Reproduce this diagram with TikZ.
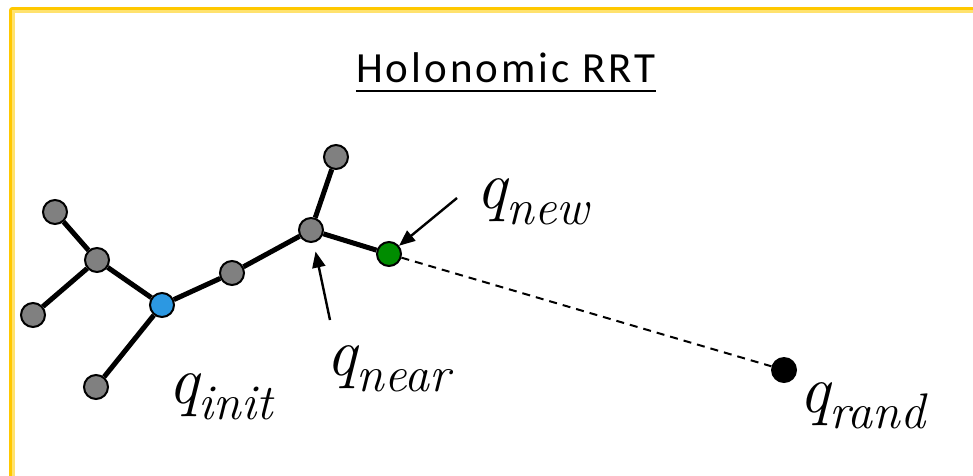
\documentclass[tikz,border=0pt]{standalone}
\usepackage{fontspec}
\newfontfamily\qfont{Latin Modern Roman}
\newfontfamily\titlefont[LetterSpace=7]{Carlito}
\usepackage{tikz}
\usetikzlibrary{arrows.meta}

\definecolor{framedark}{RGB}{255,200,0}
\definecolor{framelight}{RGB}{255,226,110}
\definecolor{treegray}{RGB}{128,128,128}
\definecolor{initblue}{RGB}{44,152,226}
\definecolor{newgreen}{RGB}{0,140,0}

\newcommand{\qsub}[1]{q\raisebox{-16pt}{\fontsize{50}{50}\selectfont #1}}

\begin{document}
\begin{tikzpicture}[
    x=1pt, y=-1pt,
    vtx/.style={circle, draw, line width=2pt, minimum size=24pt, inner sep=0pt, fill=treegray},
    edge/.style={line width=5pt},
    ptr/.style={-{Triangle[length=16pt,width=13pt]}, line width=2.4pt},
    qlbl/.style={anchor=base west, inner sep=0pt, font=\qfont\itshape\fontsize{68}{68}\selectfont},
]
\useasboundingbox (0,0) rectangle (973,475);

% Frame
\draw[framedark, line width=3pt, rounded corners=2pt] (10.5,480) -- (10.5,8.5) -- (980,8.5);
\draw[framelight, line width=3pt] (13.5,480) -- (13.5,11.5) -- (980,11.5);

% Title
\node[anchor=base, inner sep=0pt, font=\titlefont\fontsize{43}{43}\selectfont] (title) at (506,82) {Holonomic RRT};
\draw[line width=2.5pt] ([yshift=-9pt]title.base west) -- ([yshift=-9pt]title.base east);

% Tree
\node[vtx, fill=initblue] (init) at (162,305) {};
\node[vtx] (mid) at (97,260) {};
\node[vtx] (topleft) at (55,212) {};
\node[vtx] (left) at (33,315) {};
\node[vtx] (bottom) at (96,387) {};
\node[vtx] (step) at (232,273) {};
\node[vtx] (near) at (311,230) {};
\node[vtx] (top) at (336,157) {};
\node[vtx, fill=newgreen] (new) at (389,254) {};

% Random sample
\node[circle, fill=black, minimum size=26pt, inner sep=0pt] (rand) at (784,370) {};

% Edges
\draw[edge] (init) -- (mid);
\draw[edge] (mid) -- (topleft);
\draw[edge] (mid) -- (left);
\draw[edge] (init) -- (bottom);
\draw[edge] (init) -- (step);
\draw[edge] (step) -- (near);
\draw[edge] (near) -- (top);
\draw[edge] (near) -- (new);
\draw[line width=2pt, dash pattern=on 8pt off 6pt] (new) -- (rand);

% Labels
\node[qlbl] (qinit) at (168,403) {\qsub{init}};
\node[qlbl] (qnear) at (326,375) {\qsub{near}};
\node[qlbl] (qnew) at (476,208) {\qsub{new}};
\node[qlbl] (qrand) at (799,412) {\qsub{rand}};

% Pointers
\coordinate (newtail) at (457,198);
\coordinate (neartail) at (330,320);
\draw[ptr] (newtail) -- (new);
\draw[ptr, shorten >=9pt] (neartail) -- (near);
\end{tikzpicture}
\end{document}
